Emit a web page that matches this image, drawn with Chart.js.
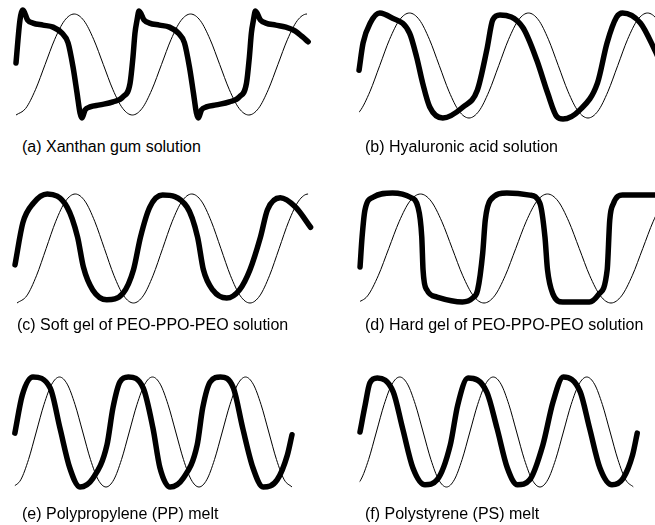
<!DOCTYPE html>
<html>
<head>
<meta charset="utf-8">
<script src="https://cdn.jsdelivr.net/npm/chart.js@4.4.1/dist/chart.umd.min.js"></script>
<style>
  html, body { margin: 0; padding: 0; background: #fff; }
  body { width: 655px; height: 525px; position: relative; overflow: hidden; }
  canvas { position: absolute; }
  .caption {
    position: absolute;
    font-family: "Liberation Sans", Arial, sans-serif;
    font-size: 16px;
    line-height: 16px;
    color: #000;
    white-space: nowrap;
  }
</style>
</head>
<body>
<script>
// imposed strain (thin line), read in cycles, same for every panel
const strainTime = [0, 0.083, 0.167, 0.25, 0.333, 0.417, 0.5, 0.583, 0.667, 0.75, 0.833, 0.917,
                    1, 1.083, 1.167, 1.25, 1.333, 1.417, 1.5, 1.583, 1.667, 1.75, 1.833, 1.917,
                    2, 2.083, 2.167, 2.25, 2.333, 2.417, 2.5, 2.583, 2.667, 2.75, 2.833, 2.917, 3];
const strainValue = [-1, -0.87, -0.5, 0, 0.5, 0.87, 1, 0.87, 0.5, 0, -0.5, -0.87,
                     -1, -0.87, -0.5, 0, 0.5, 0.87, 1, 0.87, 0.5, 0, -0.5, -0.87,
                     -1, -0.87, -0.5, 0, 0.5, 0.87, 1, 0.87, 0.5, 0, -0.5, -0.87, -1];

// stress responses (thick line)
const timeA = [0, 0.034, 0.06, 0.10, 0.146, 0.232, 0.318, 0.395, 0.447, 0.49, 0.524, 0.55, 0.567, 0.593, 0.636, 0.72, 0.833, 0.92, 0.98, 1.005, 1.022, 1.04, 1.057,
               1.10, 1.146, 1.232, 1.318, 1.395, 1.447, 1.49, 1.524, 1.55, 1.567, 1.593, 1.636, 1.72, 1.833, 1.92, 1.98, 2.005, 2.022, 2.04, 2.057,
               2.10, 2.146, 2.232, 2.318, 2.40, 2.46, 2.51];
const stressA = [0.03, 0.88, 1.08, 0.88, 0.82, 0.78, 0.74, 0.62, 0.43, -0.05, -0.56, -0.96, -1.06, -0.90, -0.84, -0.80, -0.74, -0.64, -0.37, 0.15, 0.62, 0.88, 1.06,
                 0.88, 0.82, 0.78, 0.74, 0.62, 0.43, -0.05, -0.56, -0.96, -1.06, -0.90, -0.84, -0.80, -0.74, -0.64, -0.37, 0.15, 0.62, 0.88, 1.06,
                 0.88, 0.82, 0.78, 0.74, 0.66, 0.55, 0.45];

const timeB = [0.076, 0.11, 0.17, 0.25, 0.34, 0.50, 0.56, 0.61, 0.67, 0.78, 0.95, 1.07, 1.15, 1.20, 1.26, 1.45, 1.57, 1.66, 1.74, 1.79, 1.93, 2.08, 2.16, 2.24, 2.29, 2.44, 2.56, 2.62];
const stressB = [-0.09, 0.43, 0.81, 1.0, 0.92, 0.62, 0.16, -0.33, -0.79, -1.0, -0.79, -0.47, 0.30, 0.87, 0.96, 0.73, 0.10, -0.52, -0.98, -1.02, -0.85, -0.33, 0.43, 0.92, 1.0, 0.81, 0.30, 0.0];

const timeC = [-0.017, 0.05, 0.14, 0.26, 0.43, 0.52, 0.57, 0.65, 0.77, 0.91, 1.0, 1.06, 1.14, 1.25, 1.46, 1.55, 1.60, 1.68, 1.80, 1.91, 2.0, 2.09, 2.15, 2.26, 2.39, 2.52];
const stressC = [-0.30, 0.47, 0.83, 1.0, 0.76, 0.21, -0.34, -0.76, -0.94, -0.82, -0.39, 0.21, 0.76, 0.98, 0.76, 0.21, -0.39, -0.76, -0.91, -0.76, -0.39, 0.21, 0.71, 0.93, 0.76, 0.39];

const timeD = [0.024, 0.04, 0.063, 0.126, 0.28, 0.42, 0.48, 0.51, 0.52, 0.55, 0.63, 0.83, 0.91, 0.95, 0.99, 1.01, 1.05, 1.18, 1.36, 1.44,
               1.48, 1.50, 1.54, 1.62, 1.83, 1.90, 1.97, 1.99, 2.02, 2.09, 2.35, 2.42];
const stressD = [-0.34, 0.21, 0.71, 0.94, 1.02, 0.94, 0.76, 0.21, -0.39, -0.76, -0.89, -0.98, -0.91, -0.76, -0.08, 0.52, 0.89, 1.02, 0.98, 0.83,
                 0.21, -0.39, -0.82, -0.98, -0.98, -0.85, -0.39, 0.52, 0.83, 0.98, 0.98, 0.98];

const timeE = [0.02, 0.10, 0.215, 0.40, 0.505, 0.61, 0.72, 0.86, 1.01, 1.075, 1.15, 1.24, 1.40, 1.505, 1.58, 1.69, 1.83, 1.98, 2.04, 2.12, 2.23, 2.37, 2.47, 2.58, 2.69, 2.84, 2.95, 3.0];
const stressE = [-0.02, 0.67, 1.0, 0.80, 0.07, -0.65, -1.0, -0.84, -0.24, 0.44, 0.91, 1.0, 0.80, 0.07, -0.65, -1.0, -0.84, -0.24, 0.44, 0.91, 1.0, 0.80, 0.07, -0.65, -1.0, -0.87, -0.42, -0.05];

const timeF = [0.075, 0.13, 0.18, 0.26, 0.43, 0.53, 0.64, 0.77, 0.90, 1.04, 1.12, 1.23, 1.43, 1.54, 1.65, 1.76, 1.89, 2.03, 2.14, 2.25, 2.43, 2.53, 2.64, 2.77, 2.89, 2.99, 3.04];
const stressF = [0.0, 0.49, 0.89, 0.98, 0.73, 0.07, -0.65, -0.96, -0.87, -0.24, 0.49, 0.98, 0.73, 0.07, -0.65, -0.96, -0.87, -0.24, 0.55, 1.0, 0.73, 0.07, -0.65, -0.96, -0.84, -0.42, -0.02];

const captions = [
    '(a) Xanthan gum solution',
    '(b) Hyaluronic acid solution',
    '(c) Soft gel of PEO-PPO-PEO solution',
    '(d) Hard gel of PEO-PPO-PEO solution',
    '(e) Polypropylene (PP) melt',
    '(f) Polystyrene (PS) melt'
];

// where each panel sits on the page
const panels = [
    { time: timeA, stress: stressA, x0: 16,  period: 116.4, yc: 64.5,  amp: 50.5, xmin: 0,     xmax: 2.5,  capX: 22,  capY: 138.5 },
    { time: timeB, stress: stressB, x0: 350, period: 119,   yc: 65.5,  amp: 52.5, xmin: 0.076, xmax: 2.7,  capX: 365, capY: 138.5 },
    { time: timeC, stress: stressC, x0: 17,  period: 116.5, yc: 248.5, amp: 54.5, xmin: 0,     xmax: 2.5,  capX: 17,  capY: 316.5 },
    { time: timeD, stress: stressD, x0: 357, period: 127,   yc: 248.5, amp: 54.5, xmin: 0.024, xmax: 2.45, capX: 365, capY: 316.5 },
    { time: timeE, stress: stressE, x0: 13,  period: 93,    yc: 432,   amp: 55,   xmin: 0.02,  xmax: 3.0,  capX: 22,  capY: 505.5 },
    { time: timeF, stress: stressF, x0: 353, period: 93.5,  yc: 432,   amp: 55,   xmin: 0.07,  xmax: 3.0,  capX: 365, capY: 505.5 }
];

const zip = (xs, ys) => xs.map((x, i) => ({ x: x, y: ys[i] }));

panels.forEach((p, i) => {
    const pad = 10;
    const left = p.x0 + p.xmin * p.period;
    const right = p.x0 + p.xmax * p.period;
    const top = p.yc - 1.2 * p.amp;
    const bottom = p.yc + 1.2 * p.amp;

    const cLeft = Math.floor(left - pad);
    const cTop = Math.floor(top - pad);
    const cW = Math.ceil(right + pad) - cLeft;
    const cH = Math.ceil(bottom + pad) - cTop;

    const canvas = document.createElement('canvas');
    canvas.width = cW;
    canvas.height = cH;
    canvas.style.left = cLeft + 'px';
    canvas.style.top = cTop + 'px';
    document.body.appendChild(canvas);

    new Chart(canvas.getContext('2d'), {
        type: 'line',
        data: {
            datasets: [
                {
                    label: 'strain',
                    data: zip(strainTime, strainValue),
                    borderColor: '#000',
                    borderWidth: 1,
                    pointRadius: 0,
                    cubicInterpolationMode: 'monotone',
                    clip: 0
                },
                {
                    label: 'stress',
                    data: zip(p.time, p.stress),
                    borderColor: '#000',
                    borderWidth: 5.5,
                    borderCapStyle: 'round',
                    borderJoinStyle: 'round',
                    pointRadius: 0,
                    cubicInterpolationMode: 'monotone',
                    clip: false
                }
            ]
        },
        options: {
            responsive: false,
            animation: false,
            events: [],
            layout: {
                autoPadding: false,
                padding: {
                    left: left - cLeft,
                    right: cLeft + cW - right,
                    top: top - cTop,
                    bottom: cTop + cH - bottom
                }
            },
            scales: {
                x: { type: 'linear', display: false, min: p.xmin, max: p.xmax },
                y: { type: 'linear', display: false, min: -1.2, max: 1.2 }
            },
            plugins: {
                legend: { display: false },
                tooltip: { enabled: false }
            }
        }
    });

    const cap = document.createElement('div');
    cap.className = 'caption';
    cap.textContent = captions[i];
    cap.style.left = p.capX + 'px';
    cap.style.top = p.capY + 'px';
    document.body.appendChild(cap);
});
</script>
</body>
</html>
